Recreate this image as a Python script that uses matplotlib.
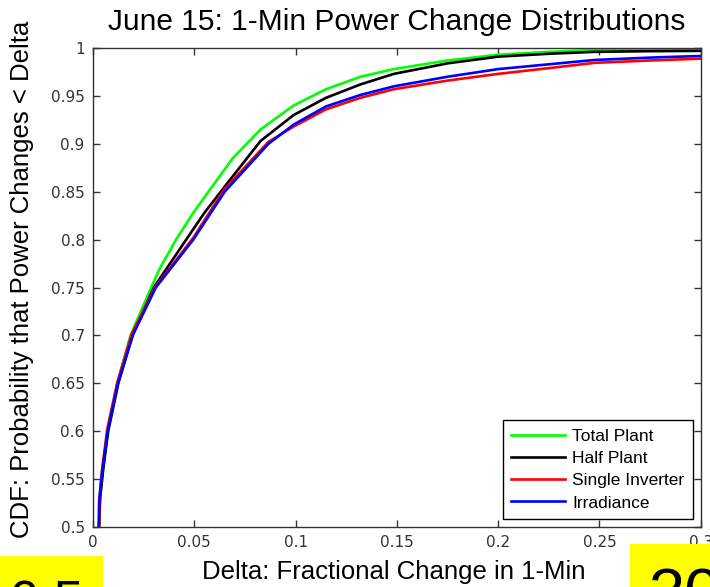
import matplotlib.pyplot as plt
from matplotlib.patches import Rectangle

# CDF curves of 1-min fractional power change, June 15
total_x = [0.003, 0.0035, 0.005, 0.0072, 0.012, 0.0185, 0.0287, 0.033, 0.041, 0.0495,
           0.058, 0.069, 0.0827, 0.099, 0.115, 0.132, 0.1485, 0.175, 0.2, 0.225,
           0.2475, 0.275, 0.3]
total_y = [0.5, 0.53, 0.56, 0.6, 0.65, 0.7, 0.75, 0.77, 0.8, 0.828,
           0.853, 0.885, 0.915, 0.94, 0.957, 0.97, 0.978, 0.987, 0.993, 0.996,
           0.998, 0.9985, 0.999]

half_x = [0.003, 0.0035, 0.005, 0.0075, 0.0125, 0.0195, 0.03, 0.046, 0.055,
          0.066, 0.0827, 0.099, 0.115, 0.132, 0.1485, 0.175, 0.2, 0.225,
          0.2475, 0.275, 0.3]
half_y = [0.5, 0.53, 0.56, 0.6, 0.65, 0.7, 0.75, 0.8, 0.828,
          0.858, 0.903, 0.93, 0.948, 0.962, 0.973, 0.984, 0.991, 0.994,
          0.996, 0.9967, 0.997]

inverter_x = [0.003, 0.0032, 0.0045, 0.007, 0.012, 0.019, 0.0305, 0.0495, 0.065,
              0.0866, 0.099, 0.115, 0.132, 0.1485, 0.175, 0.2, 0.225, 0.2475,
              0.275, 0.3]
inverter_y = [0.5, 0.53, 0.56, 0.602, 0.651, 0.701, 0.75, 0.802, 0.853,
              0.902, 0.918, 0.936, 0.948, 0.957, 0.966, 0.973, 0.979, 0.9845,
              0.987, 0.9889]

irr_x = [0.0028, 0.003, 0.0046, 0.0074, 0.0124, 0.0198, 0.031, 0.0495, 0.065,
         0.0866, 0.099, 0.115, 0.132, 0.1485, 0.175, 0.2, 0.225, 0.2475,
         0.275, 0.3]
irr_y = [0.5, 0.526, 0.56, 0.602, 0.651, 0.701, 0.75, 0.8, 0.85,
         0.9, 0.92, 0.939, 0.951, 0.96, 0.97, 0.978, 0.983, 0.9875,
         0.99, 0.9917]

x_ticks = [0, 0.05, 0.1, 0.15, 0.2, 0.25, 0.3]
x_labels = ["0", "0.05", "0.1", "0.15", "0.2", "0.25", "0.3"]
y_ticks = [0.5, 0.55, 0.6, 0.65, 0.7, 0.75, 0.8, 0.85, 0.9, 0.95, 1.0]
y_labels = ["0.5", "0.55", "0.6", "0.65", "0.7", "0.75", "0.8", "0.85", "0.9", "0.95", "1"]


def main():
    fig = plt.figure(figsize=(7.1, 5.87), dpi=100)
    ax = fig.add_axes([0.131, 0.1022, 0.856, 0.816])

    ax.plot(total_x, total_y, color="#00ff00", lw=1.9, label="Total Plant")
    ax.plot(half_x, half_y, color="black", lw=1.9, label="Half Plant")
    ax.plot(inverter_x, inverter_y, color="red", lw=1.9, label="Single Inverter")
    ax.plot(irr_x, irr_y, color="blue", lw=1.9, label="Irradiance")

    ax.set_xlim(0, 0.3)
    ax.set_ylim(0.5, 1)
    ax.set_xticks(x_ticks)
    ax.set_xticklabels(x_labels)
    ax.set_yticks(y_ticks)
    ax.set_yticklabels(y_labels)
    ax.tick_params(direction="in", length=5, width=1, top=True, right=True,
                   labelsize=11, labelcolor="#333333", color="#333333", pad=6)
    for s in ax.spines.values():
        s.set_color("#333333")
        s.set_linewidth(1)

    ax.set_title("June 15: 1-Min Power Change Distributions",
                 family="Liberation Sans", fontsize=21.5, pad=13)
    ax.set_xlabel("Delta: Fractional Change in 1-Min",
                  family="Liberation Sans", fontsize=18.5)
    ax.xaxis.set_label_coords(0.495, -0.068)
    ax.set_ylabel("CDF: Probability that Power Changes < Delta",
                  family="Liberation Sans", fontsize=18.5)
    ax.yaxis.set_label_coords(-0.097, 0.518)

    leg = ax.legend(loc="lower right", prop={"family": "Liberation Sans", "size": 12.5},
                    fancybox=False, framealpha=1, edgecolor="black",
                    handlelength=3.1, handletextpad=0.4, labelspacing=0.4,
                    borderpad=0.5, borderaxespad=0.45)
    leg.get_frame().set_linewidth(1)

    # yellow markers in the bottom corners
    fig.add_artist(Rectangle((0, 0), 103 / 710, 31 / 587, transform=fig.transFigure,
                             facecolor="yellow", edgecolor="none"))
    fig.text(0.014, -0.053, "0.5", family="Liberation Sans", fontsize=38, va="baseline")
    fig.add_artist(Rectangle((630 / 710, 0), 80 / 710, 43 / 587, transform=fig.transFigure,
                             facecolor="yellow", edgecolor="none"))
    fig.text(0.914, -0.046, "30", family="Liberation Sans", fontsize=47, va="baseline")

    fig.savefig("out.png", dpi=100)


if __name__ == "__main__":
    main()
